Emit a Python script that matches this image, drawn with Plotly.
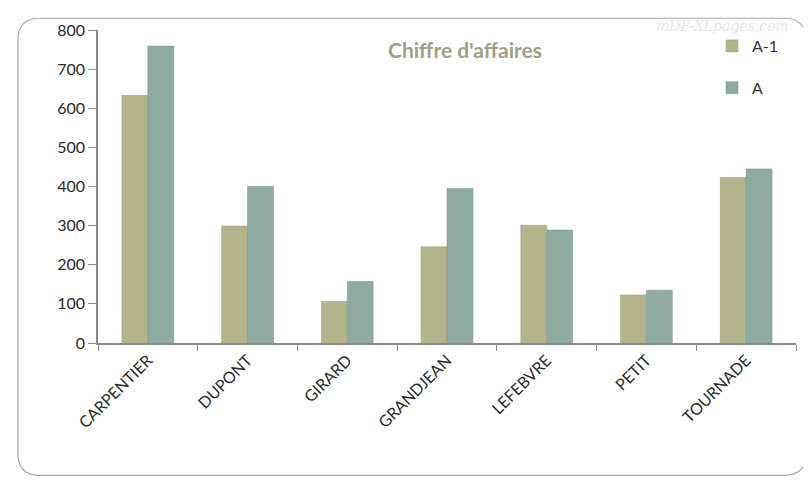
import plotly.graph_objects as go

categories = ["CARPENTIER", "DUPONT", "GIRARD", "GRANDJEAN", "LEFEBVRE", "PETIT", "TOURNADE"]
a_minus_1 = [633, 299, 106, 246, 301, 123, 423]
a_current = [759, 400, 157, 395, 289, 135, 445]
series_names = ["A-1", "A"]
y_ticks = [0, 100, 200, 300, 400, 500, 600, 700, 800]

OFF = 8  # page body margin
W, H = 811 - OFF, 482 - OFF
L, T = 98 - OFF, 24 - OFF
R = W - (796 - OFF)
B = H - (343 - OFF)
pw, ph = W - L - R, H - T - B

def px(x):
    return (x - OFF - L) / pw

def py(y):
    return (H - B - (y - OFF)) / ph

fig = go.Figure()
fig.add_trace(go.Bar(x=categories, y=a_minus_1, name=series_names[0], legendgroup="g1",
                     marker=dict(color="#b3b38c", line=dict(color="#9c9c76", width=0.5))))
fig.add_trace(go.Bar(x=categories, y=a_current, name=series_names[1], legendgroup="g2",
                     marker=dict(color="#8eaba2", line=dict(color="#76948c", width=0.5))))

# rounded border
x0, x1, y0, y1 = px(18), px(806), py(12), py(478)
rx, ry = 22 / pw, 22 / ph
path = (f"M {x0+rx},{y0} L {x1-rx},{y0} Q {x1},{y0} {x1},{y0-ry} "
        f"L {x1},{y1+ry} Q {x1},{y1} {x1-rx},{y1} L {x0+rx},{y1} "
        f"Q {x0},{y1} {x0},{y1+ry} L {x0},{y0-ry} Q {x0},{y0} {x0+rx},{y0} Z")
fig.add_shape(type="path", path=path, xref="paper", yref="paper",
              line=dict(color="#a8a8a8", width=1.2), layer="below")

fig.add_annotation(text="<b>Chiffre d'affaires</b>", xref="paper", yref="paper",
                   x=px(465), y=py(44), xanchor="center", yanchor="middle", showarrow=False,
                   font=dict(family="Lato", size=21, color="#a0a086"))
fig.add_annotation(text="<i>mDF-XLpages.com</i>", xref="paper", yref="paper",
                   x=px(722), y=py(20), xanchor="center", yanchor="middle", showarrow=False,
                   font=dict(family="DejaVu Serif", size=14, color="#e6e6e6"))

fig.update_layout(
    width=W, height=H,
    margin=dict(l=L, r=R, t=T, b=B),
    paper_bgcolor="white", plot_bgcolor="white",
    barmode="group", bargap=0.48, bargroupgap=0,
    showlegend=True,
    legend=dict(x=px(712), y=py(23), xanchor="left", yanchor="top",
                font=dict(family="Lato", size=16, color="#333333"),
                traceorder="grouped", itemwidth=30, tracegroupgap=18,
                bgcolor="rgba(0,0,0,0)"),
    xaxis=dict(showline=True, linecolor="#8a8a8a", linewidth=1.5,
               ticks="outside", tickson="boundaries", ticklen=6, tickcolor="#8a8a8a",
               tickangle=-45, showgrid=False,
               tickfont=dict(family="Lato", size=16, color="#2a2a2a")),
    yaxis=dict(range=[0, 800], tickvals=y_ticks, showline=True, linecolor="#8a8a8a",
               linewidth=1.5, ticks="outside", ticklen=8, tickcolor="#8a8a8a",
               showgrid=False, zeroline=False,
               tickfont=dict(family="Lato", size=16, color="#2a2a2a")),
)
fig.write_html("out.html")
